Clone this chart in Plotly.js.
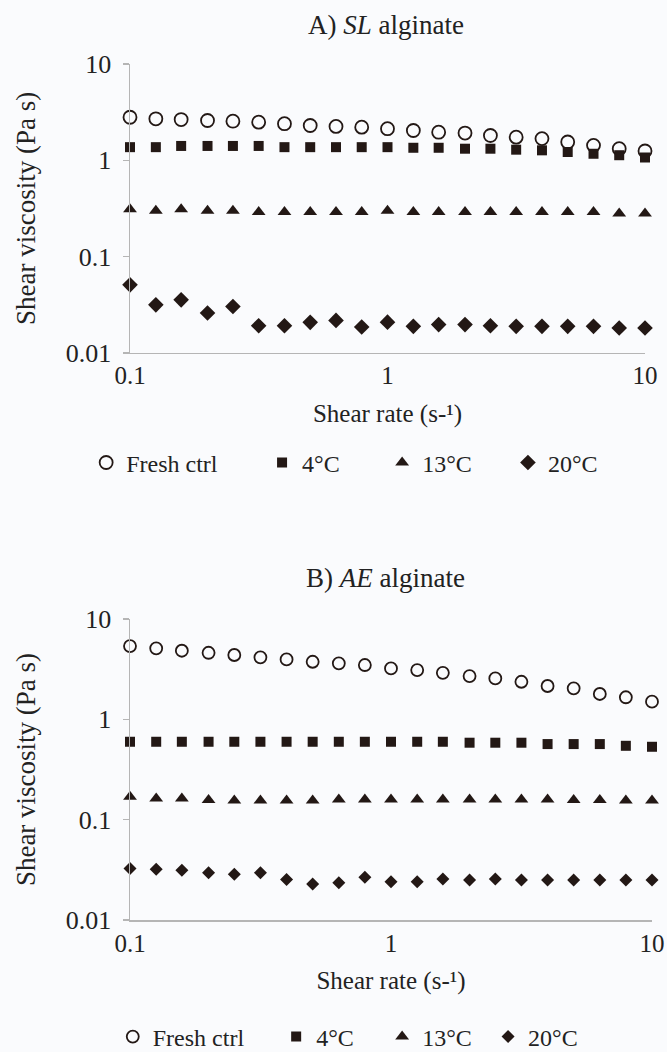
<!DOCTYPE html>
<html>
<head>
<meta charset="utf-8">
<script src="https://cdn.plot.ly/plotly-3.0.1.min.js"></script>
<style>
html,body{margin:0;padding:0;background:#fafbfd;}
#chart{width:667px;height:1052px;}
</style>
</head>
<body>
<div id="chart"></div>
<script>
// Shear rate (s-1)
const shearRate = [0.1, 0.126, 0.158, 0.2, 0.251, 0.316, 0.398, 0.501, 0.631, 0.794, 1, 1.26, 1.58, 2, 2.51, 3.16, 3.98, 5.01, 6.31, 7.94, 10];

// A) SL alginate - shear viscosity (Pa s)
const slFresh = [2.80, 2.70, 2.65, 2.59, 2.55, 2.49, 2.40, 2.30, 2.25, 2.21, 2.13, 2.04, 1.96, 1.92, 1.81, 1.74, 1.68, 1.55, 1.43, 1.32, 1.25];
const sl4C    = [1.37, 1.37, 1.41, 1.41, 1.41, 1.41, 1.37, 1.37, 1.37, 1.37, 1.37, 1.35, 1.35, 1.32, 1.32, 1.29, 1.27, 1.22, 1.17, 1.13, 1.07];
const sl13C   = [0.31, 0.30, 0.31, 0.30, 0.30, 0.29, 0.29, 0.29, 0.29, 0.29, 0.30, 0.29, 0.29, 0.29, 0.29, 0.29, 0.29, 0.29, 0.29, 0.28, 0.28];
const sl20C   = [0.051, 0.0316, 0.0356, 0.026, 0.0304, 0.0192, 0.0192, 0.0208, 0.0218, 0.0186, 0.0209, 0.0189, 0.0197, 0.0197, 0.0192, 0.0189, 0.0189, 0.0189, 0.0189, 0.0182, 0.0182];

// B) AE alginate - shear viscosity (Pa s)
const aeFresh = [5.38, 5.10, 4.83, 4.61, 4.38, 4.15, 3.96, 3.75, 3.62, 3.48, 3.22, 3.10, 2.91, 2.70, 2.56, 2.37, 2.15, 2.04, 1.79, 1.66, 1.50];
const ae4C    = [0.598, 0.598, 0.598, 0.598, 0.598, 0.598, 0.598, 0.598, 0.598, 0.598, 0.598, 0.598, 0.598, 0.585, 0.585, 0.585, 0.567, 0.567, 0.567, 0.545, 0.533];
const ae13C   = [0.169, 0.163, 0.163, 0.157, 0.155, 0.155, 0.155, 0.155, 0.159, 0.159, 0.159, 0.159, 0.159, 0.159, 0.159, 0.159, 0.159, 0.157, 0.157, 0.155, 0.155];
const ae20C   = [0.0327, 0.0320, 0.0314, 0.0296, 0.0285, 0.0296, 0.0254, 0.0228, 0.0235, 0.0266, 0.0240, 0.0240, 0.0256, 0.0250, 0.0256, 0.0250, 0.0250, 0.0250, 0.0250, 0.0250, 0.0250];

// tick labels and text
const xTickVals = [0.1, 1, 10];
const xTickText = ['0.1', '1', '10'];
const yTickVals = [0.01, 0.1, 1, 10];
const yTickText = ['0.01', '0.1', '1', '10'];
const seriesNames = ['Fresh ctrl', '4°C', '13°C', '20°C'];
const panelTitles = ['A) <i>SL</i> alginate', 'B) <i>AE</i> alginate'];
const xTitle = 'Shear rate (s-¹)';
const yTitle = 'Shear viscosity (Pa s)';

const ink = '#231815';
const axisGrey = '#b5b5b5';
const FONT = 'Liberation Serif';
const txt = '#222222';

// wrap axis text so the serif face is applied to it as well
const serif = s => '<span style="font-family:Liberation Serif">' + s + '</span>';

const markerStyles = [
  {symbol: 'circle-open', size: 13, color: ink, line: {color: ink, width: 1.8}},
  {symbol: 'square', size: 10, color: ink},
  {symbol: 'triangle-up', size: 12, color: ink},
  {symbol: 'diamond', size: 12, color: ink}
];
const markerStylesB = [
  {symbol: 'circle-open', size: 12, color: ink, line: {color: ink, width: 1.8}},
  {symbol: 'square', size: 10, color: ink},
  {symbol: 'triangle-up', size: 12, color: ink},
  {symbol: 'diamond', size: 10, color: ink}
];

const dataA = [slFresh, sl4C, sl13C, sl20C];
const dataB = [aeFresh, ae4C, ae13C, ae20C];

// one legend box per entry, so each entry can sit where the reference has it
const legendIdsA = ['legend', 'legend2', 'legend3', 'legend4'];
const legendIdsB = ['legend5', 'legend6', 'legend7', 'legend8'];
const legendXA = [-0.084, 0.253, 0.483, 0.724];
const legendXB = [-0.033, 0.280, 0.483, 0.686];

const traces = [];
dataA.forEach((ys, i) => traces.push({
  type: 'scatter', mode: 'markers', x: shearRate, y: ys, name: seriesNames[i],
  xaxis: 'x', yaxis: 'y', legend: legendIdsA[i], marker: markerStyles[i], cliponaxis: false
}));
dataB.forEach((ys, i) => traces.push({
  type: 'scatter', mode: 'markers', x: shearRate, y: ys, name: seriesNames[i],
  xaxis: 'x2', yaxis: 'y2', legend: legendIdsB[i], marker: markerStylesB[i], cliponaxis: false
}));

function xAxis(domain, anchor) {
  return {
    type: 'log', range: [-1, 1], tickvals: xTickVals, ticktext: xTickText.map(serif),
    domain: domain, anchor: anchor, automargin: false,
    showgrid: false, zeroline: false, showline: true, linecolor: axisGrey, linewidth: 1.5,
    ticks: '', tickfont: {family: FONT, size: 25, color: txt},
    title: {text: serif(xTitle), font: {family: FONT, size: 25, color: txt}, standoff: 16}
  };
}
function yAxis(domain, anchor) {
  return {
    type: 'log', range: [-2, 1], tickvals: yTickVals, ticktext: yTickText.map(serif),
    domain: domain, anchor: anchor, automargin: false,
    showgrid: false, zeroline: false, showline: true, linecolor: axisGrey, linewidth: 1.5,
    ticks: 'outside', ticklen: 6, tickcolor: axisGrey, tickwidth: 1.5, ticklabelstandoff: 6,
    tickfont: {family: FONT, size: 26, color: txt},
    title: {text: serif(yTitle), font: {family: FONT, size: 27, color: txt}, standoff: 22}
  };
}
function legendBox(x, y) {
  return {
    orientation: 'h', x: x, y: y, xanchor: 'left', yanchor: 'middle',
    font: {family: FONT, size: 24, color: txt}, bgcolor: 'rgba(0,0,0,0)', borderwidth: 0
  };
}

const layout = {
  width: 667, height: 1052,
  font: {family: FONT, size: 24, color: txt},
  paper_bgcolor: '#fafbfd', plot_bgcolor: '#fafbfd',
  margin: {l: 130, r: 15, t: 64, b: 132, autoexpand: false},
  showlegend: true,
  xaxis: xAxis([0, 0.9866], 'y'),
  yaxis: yAxis([0.6624, 1], 'x'),
  xaxis2: xAxis([0, 1], 'y2'),
  yaxis2: yAxis([0, 0.3516], 'x2'),
  annotations: [
    {text: panelTitles[0], xref: 'paper', yref: 'paper', x: 0.49, y: 1.0456, xanchor: 'center', yanchor: 'middle',
     showarrow: false, font: {family: FONT, size: 27, color: txt}},
    {text: panelTitles[1], xref: 'paper', yref: 'paper', x: 0.49, y: 0.3995, xanchor: 'center', yanchor: 'middle',
     showarrow: false, font: {family: FONT, size: 27, color: txt}}
  ]
};
legendIdsA.forEach((id, i) => { layout[id] = legendBox(legendXA[i], 0.534); });
legendIdsB.forEach((id, i) => { layout[id] = legendBox(legendXB[i], -0.1367); });

Plotly.newPlot('chart', traces, layout, {displayModeBar: false, staticPlot: true});
</script>
</body>
</html>
